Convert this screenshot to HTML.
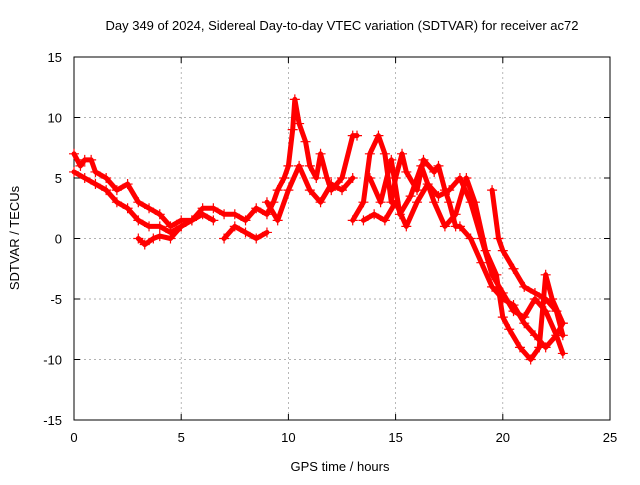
<!DOCTYPE html>
<html><head><meta charset="utf-8"><style>
body{margin:0;background:#fff}
svg text{font-family:"Liberation Sans",sans-serif;font-size:13px;fill:#000}
</style></head><body>
<svg id="c" width="640" height="480"></svg>
<script>
const xTicks=[0,5,10,15,20,25];
const yTicks=[-15,-10,-5,0,5,10,15];
const trackA=[[0,7],[0.3,6],[0.5,6.5],[0.8,6.5],[1,5.5],[1.5,5],[2,4],[2.5,4.5],[3,3],[3.5,2.5],[4,2],[4.5,1],[5,1.5],[5.5,1.5],[6,2.5],[6.5,2.5],[7,2],[7.5,2],[8,1.5],[8.5,2.5],[9,2],[9.3,3],[9.5,4],[9.8,5],[10,6],[10.2,9],[10.3,11.5],[10.5,9.5],[10.8,8],[11,6],[11.3,5],[11.5,7],[11.8,5],[12,4],[12.5,5],[13,8.5],[13.2,8.5]];
const trackB=[[0,5.5],[0.5,5],[1,4.5],[1.5,4],[2,3],[2.5,2.5],[3,1.5],[3.5,1],[4,1],[4.5,0.5],[5,1],[5.5,1.5],[6,2],[6.5,1.5]];
const trackC=[[3,0],[3.3,-0.5],[3.7,0],[4,0.2],[4.5,0],[5,1]];
const trackD=[[13,1.5],[13.5,3],[13.8,7],[14.2,8.5],[14.5,7],[14.8,3],[15,5],[15.3,7],[15.5,5.5],[16,4],[16.3,6.5],[16.8,5.5],[17,6],[17.3,4],[17.5,3],[17.8,1],[18,1],[18.5,0],[19,-2],[19.5,-4],[20,-5],[20.5,-5.5],[21,-7],[21.5,-8],[22,-9],[22.5,-8],[22.8,-7]];
const trackE=[[13.5,1.5],[14,2],[14.5,1.5],[15,3],[15.5,1],[16,3],[16.5,4.5],[17,3.5],[17.5,4],[18,5],[18.5,3],[19,0],[19.5,-3],[20,-4.5],[20.5,-6],[21,-6.5],[21.5,-5],[22,-6],[22.5,-8],[22.8,-9.5]];
const trackF=[[13.8,5],[14.3,3],[14.8,6.5],[15.2,2],[15.7,3.5],[16.2,6],[16.8,3],[17.3,1],[17.8,2],[18.3,5],[18.7,3],[19.2,-1],[19.7,-3],[20,-6.5],[20.3,-7.5],[20.8,-9],[21.3,-10],[21.7,-9],[22,-3],[22.3,-5],[22.8,-7]];
const trackG=[[19.5,4],[19.8,0],[20,-1],[20.5,-2.5],[21,-4],[21.5,-4.5],[22,-5],[22.5,-6],[22.8,-8]];
const trackH=[[9,3],[9.5,1.5],[10,4],[10.5,6],[11,4],[11.5,3],[12,4.5],[12.5,4],[13,5]];
const trackI=[[7,0],[7.5,1],[8,0.5],[8.5,0],[9,0.5]];
const tracks=[trackA,trackB,trackC,trackD,trackE,trackF,trackG,trackH,trackI];
const L=74,R=610,T=57,B=420;
const sx=v=>L+(v-0)/(25-0)*(R-L);
const sy=v=>B-(v+15)/30*(B-T);
const svg=document.getElementById('c');const NS='http://www.w3.org/2000/svg';
function mk(t,a,p){const e=document.createElementNS(NS,t);for(const k in a)e.setAttribute(k,a[k]);(p||svg).appendChild(e);return e;}
const grid=mk('g',{});


xTicks.forEach(v=>{if(v>0&&v<25)mk('line',{x1:sx(v),x2:sx(v),y1:T,y2:B,stroke:'#999','stroke-dasharray':'2,3','stroke-width':0.7},grid);
 const t=mk('text',{x:sx(v),y:B+22,'text-anchor':'middle'});t.textContent=v;
 
 
 mk('line',{x1:sx(v),x2:sx(v),y1:B,y2:B-6,stroke:'#000'});mk('line',{x1:sx(v),x2:sx(v),y1:T,y2:T+6,stroke:'#000'});});
yTicks.forEach(v=>{if(v>-15&&v<15)mk('line',{x1:L,x2:R,y1:sy(v),y2:sy(v),stroke:'#999','stroke-dasharray':'2,3','stroke-width':0.7},grid);
 const t=mk('text',{x:L-12,y:sy(v)+5,'text-anchor':'end'});t.textContent=v;
 
 
 mk('line',{x1:L,x2:L+6,y1:sy(v),y2:sy(v),stroke:'#000'});mk('line',{x1:R,x2:R-6,y1:sy(v),y2:sy(v),stroke:'#000'});});
const fr=mk('rect',{x:L,y:T,width:R-L,height:B-T,fill:'none',stroke:'#000'});


const sg=mk('g',{});


tracks.forEach(tr=>{
 const pl=mk('polyline',{points:tr.map(p=>sx(p[0])+','+sy(p[1])).join(' '),fill:'none',stroke:'#f00','stroke-width':5,'stroke-linejoin':'round','stroke-linecap':'round'},sg);
 
 
 tr.forEach(p=>{const x=sx(p[0]),y=sy(p[1]);
  const m=mk('path',{d:`M${x-5},${y}h10M${x},${y-5}v10`,stroke:'#f00','stroke-width':1.2},sg);
  
  });
});
const ti=mk('text',{x:342,y:30,'text-anchor':'middle'});ti.textContent='Day 349 of 2024, Sidereal Day-to-day VTEC variation (SDTVAR) for receiver ac72';


const xl=mk('text',{x:340,y:471,'text-anchor':'middle'});xl.textContent='GPS time / hours';


const yl=mk('text',{x:0,y:0,'text-anchor':'middle',transform:'translate(19,238) rotate(-90)'});yl.textContent='SDTVAR / TECUs';


</script>
</body></html>
